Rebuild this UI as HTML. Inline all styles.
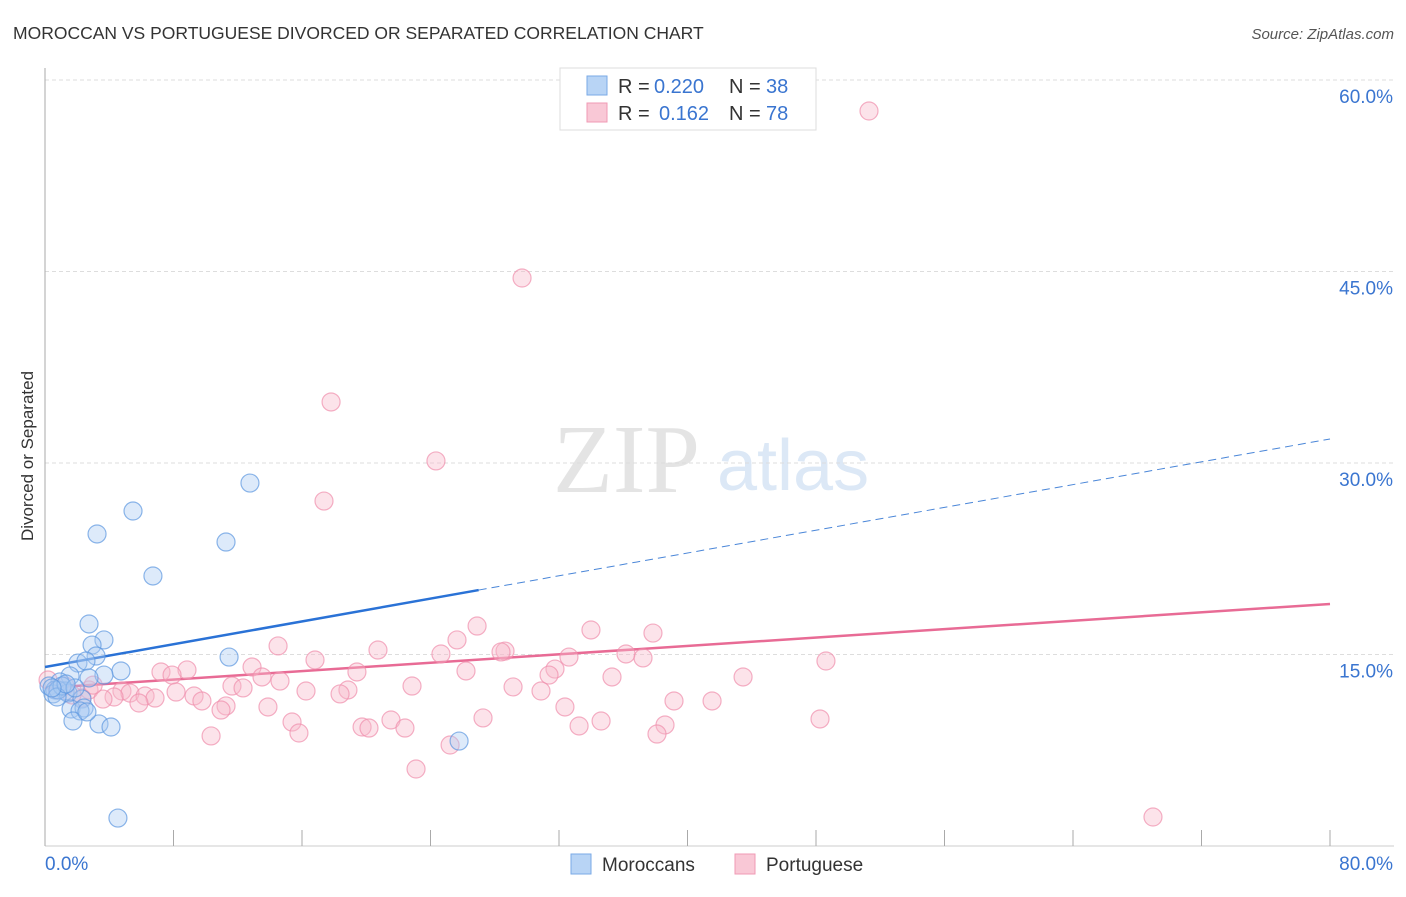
<!DOCTYPE html>
<html><head><meta charset="utf-8"><style>
html,body{margin:0;padding:0;background:#fff;}
body{width:1406px;height:892px;overflow:hidden;font-family:"Liberation Sans",sans-serif;}
</style></head><body>
<svg id="chart" width="1406" height="892" xmlns="http://www.w3.org/2000/svg" font-family="Liberation Sans, sans-serif">
<text x="13" y="39" font-size="17.5" fill="#333">MOROCCAN VS PORTUGUESE DIVORCED OR SEPARATED CORRELATION CHART</text>
<text x="1394" y="39" font-size="15" fill="#555" font-style="italic" text-anchor="end">Source: ZipAtlas.com</text>
<text transform="translate(33,456) rotate(-90)" font-size="17" fill="#333" text-anchor="middle">Divorced or Separated</text>
<g>
<text x="553" y="492" font-size="98" font-family="Liberation Serif, serif" fill="#e4e4e4">ZIP</text>
<text x="717" y="490" font-size="72" fill="#dce8f6">atlas</text>
</g>
<g id="grid"></g>
<g id="axes"></g>
<g id="trends"></g>
<g id="points"></g>
<g>
<rect x="560" y="68" width="256" height="62" fill="#fff" stroke="#ddd"/>
<rect x="587" y="76" width="20" height="19" fill="#b8d4f5" stroke="#7aaae6"/>
<text x="618" y="93" font-size="20" fill="#333">R = </text><text x="654" y="93" font-size="20" fill="#3a75d0">0.220</text>
<text x="729" y="93" font-size="20" fill="#333">N = </text><text x="766" y="93" font-size="20" fill="#3a75d0">38</text>
<rect x="587" y="103" width="20" height="19" fill="#f9c8d6" stroke="#f09ab4"/>
<text x="618" y="120" font-size="20" fill="#333">R = </text><text x="659" y="120" font-size="20" fill="#3a75d0">0.162</text>
<text x="729" y="120" font-size="20" fill="#333">N = </text><text x="766" y="120" font-size="20" fill="#3a75d0">78</text>
</g>
<g>
<rect x="571" y="854" width="20" height="20" fill="#b8d4f5" stroke="#7aaae6"/>
<text x="602" y="871" font-size="19" fill="#333">Moroccans</text>
<rect x="735" y="854" width="20" height="20" fill="#f9c8d6" stroke="#f09ab4"/>
<text x="766" y="871" font-size="19" fill="#333">Portuguese</text>
</g>
</svg>
<script>
const yTicks=[15,30,45,60];
const yTickLabels=["15.0%","30.0%","45.0%","60.0%"];
const xTicks=[0,8,16,24,32,40,48,56,64,72,80];
const xMin=0,xMax=80,yMin=0,yMax=60;
const moroccanX=[12.76,5.48,3.24,11.27,6.72,2.74,3.67,2.93,3.18,11.46,2.05,2.55,4.73,3.67,1.56,2.74,0.93,0.25,0.62,1.25,0.50,1.43,2.30,1.62,2.43,2.18,1.74,3.36,4.11,25.78,4.54,0.81,1.06,1.87,0.75,2.61,1.31,0.44];
const moroccanY=[28.43,26.24,24.44,23.81,21.15,17.39,16.14,15.74,14.88,14.80,14.33,14.49,13.71,13.39,13.32,13.16,12.85,12.53,12.22,12.14,11.91,11.98,11.51,10.73,10.81,10.58,9.79,9.56,9.32,8.22,2.19,12.22,12.53,12.38,11.67,10.5,12.69,12.38];
const portugueseX=[51.3,29.70,17.81,24.34,17.37,26.90,33.99,37.85,25.65,14.51,20.73,28.64,28.39,24.65,36.17,32.62,37.23,48.62,16.81,8.84,12.89,31.75,26.21,19.42,7.22,31.38,7.91,13.51,14.63,35.30,43.46,11.64,12.33,22.85,29.14,18.86,16.25,8.16,30.88,18.37,4.79,2.74,5.29,4.30,6.23,3.61,9.28,6.85,9.77,2.30,39.16,41.53,5.85,11.27,10.96,13.88,32.37,27.27,21.54,48.25,15.38,34.62,33.25,38.60,19.74,20.17,22.41,15.81,10.34,38.10,25.22,23.10,68.98,0.19,0.75,1.25,1.68,3.0];
const portugueseY=[57.57,44.49,34.78,30.16,27.02,17.23,16.92,16.68,16.14,15.67,15.35,15.27,15.20,15.04,15.04,14.80,14.73,14.49,14.57,13.79,14.02,13.86,13.71,13.63,13.63,13.39,13.39,13.24,12.92,13.24,13.24,12.53,12.38,12.53,12.46,12.22,12.14,12.06,12.14,11.91,12.14,12.22,11.98,11.67,11.75,11.51,11.75,11.59,11.36,11.59,11.36,11.36,11.20,10.97,10.65,10.89,10.89,10.03,9.87,9.95,9.71,9.79,9.40,9.48,9.32,9.24,9.24,8.85,8.62,8.77,7.91,6.03,2.27,13.0,12.22,12.53,11.83,12.6];
const moroccanTrend=[14.02,31.88];
const portugueseTrend=[12.38,18.96];
const moroccanSolidEnd=27;
const NS='http://www.w3.org/2000/svg';
const X0=45,X1=1330,Y0=846,Y1=80;
function sx(v){return X0+(v-xMin)/(xMax-xMin)*(X1-X0);}
function sy(v){return Y0-(v-yMin)/(yMax-yMin)*(Y0-Y1);}
function mk(tag,attrs,parent){const e=document.createElementNS(NS,tag);for(const k in attrs)e.setAttribute(k,attrs[k]);parent.appendChild(e);return e;}
const grid=document.getElementById('grid'),axes=document.getElementById('axes'),trends=document.getElementById('trends'),pts=document.getElementById('points');
yTicks.forEach((t,i)=>{
 const l=mk('line',{x1:X0,x2:1394,y1:sy(t),y2:sy(t),stroke:'#ddd','stroke-dasharray':'4,3'},grid);
 
 
 const tx=mk('text',{x:1393,y:sy(t)+23,'font-size':19,fill:'#3a75d0','text-anchor':'end'},grid);
 tx.textContent=yTickLabels[i];
 
 
});
const ya=mk('line',{x1:X0,x2:X0,y1:68,y2:Y0,stroke:'#aaa'},axes);


const xa=mk('line',{x1:X0,x2:1394,y1:Y0,y2:Y0,stroke:'#ccc'},axes);


xTicks.forEach(t=>{
 const l=mk('line',{x1:sx(t),x2:sx(t),y1:830,y2:Y0,stroke:'#aaa'},axes);
 
 
});
const xl0=mk('text',{x:45,y:870,'font-size':19,fill:'#3a75d0'},axes);xl0.textContent=xMin.toFixed(1)+'%';


const xl1=mk('text',{x:1393,y:870,'font-size':19,fill:'#3a75d0','text-anchor':'end'},axes);xl1.textContent=xMax.toFixed(1)+'%';


function tv(tr,x){return tr[0]+(tr[1]-tr[0])*(x-xMin)/(xMax-xMin);}
function drawPts(xs,ys,fill,stroke,name){
 xs.forEach((x,i)=>{
  const c=mk('circle',{cx:sx(x),cy:sy(ys[i]),r:9,fill:fill,'fill-opacity':0.4,stroke:stroke,'stroke-width':1.2,'stroke-opacity':0.7},pts);
  
  
 });
}
drawPts(portugueseX,portugueseY,'#f8b8cb','#ef8fac','portuguese-point');
drawPts(moroccanX,moroccanY,'#a9cbf2','#5d97e0','moroccan-point');
const pl=mk('line',{x1:sx(xMin),y1:sy(tv(portugueseTrend,xMin)),x2:sx(xMax),y2:sy(tv(portugueseTrend,xMax)),stroke:'#e86b95','stroke-width':2.5},trends);


const bl=mk('line',{x1:sx(xMin),y1:sy(tv(moroccanTrend,xMin)),x2:sx(moroccanSolidEnd),y2:sy(tv(moroccanTrend,moroccanSolidEnd)),stroke:'#2a72d6','stroke-width':2.5},trends);


const bd=mk('line',{x1:sx(moroccanSolidEnd),y1:sy(tv(moroccanTrend,moroccanSolidEnd)),x2:sx(xMax),y2:sy(tv(moroccanTrend,xMax)),stroke:'#4a86d8','stroke-width':1,'stroke-dasharray':'8,5'},trends);


</script>
</body></html>
